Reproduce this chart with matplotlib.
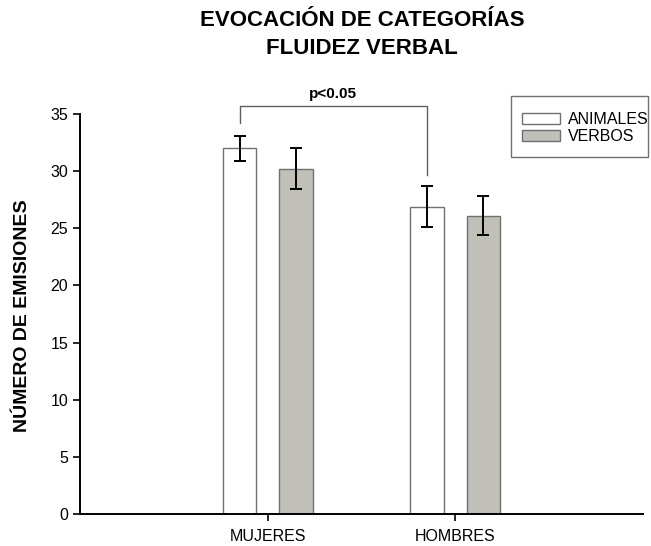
import numpy as np
import matplotlib
matplotlib.use('Agg')
import matplotlib.pyplot as plt
from matplotlib.patches import Rectangle

plt.rcParams['font.family'] = ['Liberation Sans', 'DejaVu Sans']

groups = ['MUJERES', 'HOMBRES']
series = ['ANIMALES', 'VERBOS']
animales = [32.0, 26.9]
animales_err = [1.1, 1.8]
verbos = [30.2, 26.1]
verbos_err = [1.8, 1.7]

W, H = 651, 546
fig = plt.figure(figsize=(W / 100, H / 100), dpi=100)
ax = fig.add_axes([80/W, 1-514/H, (643-80)/W, 400/H])

x = np.arange(1, len(groups) + 1)
w = 0.18
off = 0.15
ek = dict(ecolor='black', elinewidth=1.4, capsize=4.5, capthick=1.4)
b1 = ax.bar(x - off, animales, w, yerr=animales_err, color='white',
            edgecolor='#707070', linewidth=1, label=series[0], error_kw=ek)
b2 = ax.bar(x + off, verbos, w, yerr=verbos_err, color='#c0c0b8',
            edgecolor='#707070', linewidth=1, label=series[1], error_kw=ek)

ax.set_xlim(0, 3)
ax.set_ylim(0, 35)
ax.set_yticks(range(0, 36, 5))
ax.set_xticks(x)
ax.set_xticklabels(groups)
ax.tick_params(labelsize=11.5, length=5, width=1.2, direction='out')
ax.tick_params(axis='x', pad=6)
for s in ['top', 'right']:
    ax.spines[s].set_visible(False)
for s in ['left', 'bottom']:
    ax.spines[s].set_linewidth(1.4)

fig.text(23/W, 1-316/H, 'NÚMERO DE EMISIONES', rotation=90, ha='center', va='center',
         fontsize=14, fontweight='bold')

# significance bracket
xl, xr = x[0] - off, x[1] - off
ytop = 35.7
ax.plot([xl, xl, xr, xr], [34.2, ytop, ytop, 29.7], color='#606060', lw=1, clip_on=False)
ax.text((xl + xr) / 2, ytop + 0.45, 'p<0.05', ha='center', va='bottom',
        fontsize=11, fontweight='bold')

fig.text(362/W, 1-20/H, 'EVOCACIÓN DE CATEGORÍAS', ha='center', va='center',
         fontsize=16, fontweight='bold')
fig.text(362/W, 1-48/H, 'FLUIDEZ VERBAL', ha='center', va='center',
         fontsize=16, fontweight='bold')

# legend box
fig.patches.append(Rectangle((511/W, 1-157/H), (648-511)/W, (157-96)/H,
                             transform=fig.transFigure, fill=False,
                             edgecolor='#707070', lw=1))
fig.legend(handles=[b1, b2], labels=series, loc='upper left',
           bbox_to_anchor=(522/W, 1-112/H), fontsize=11.5, frameon=False,
           handlelength=2.4, handleheight=0.7, borderpad=0, labelspacing=0.15,
           handletextpad=0.45, borderaxespad=0)

fig.savefig('out.png', dpi=100)
